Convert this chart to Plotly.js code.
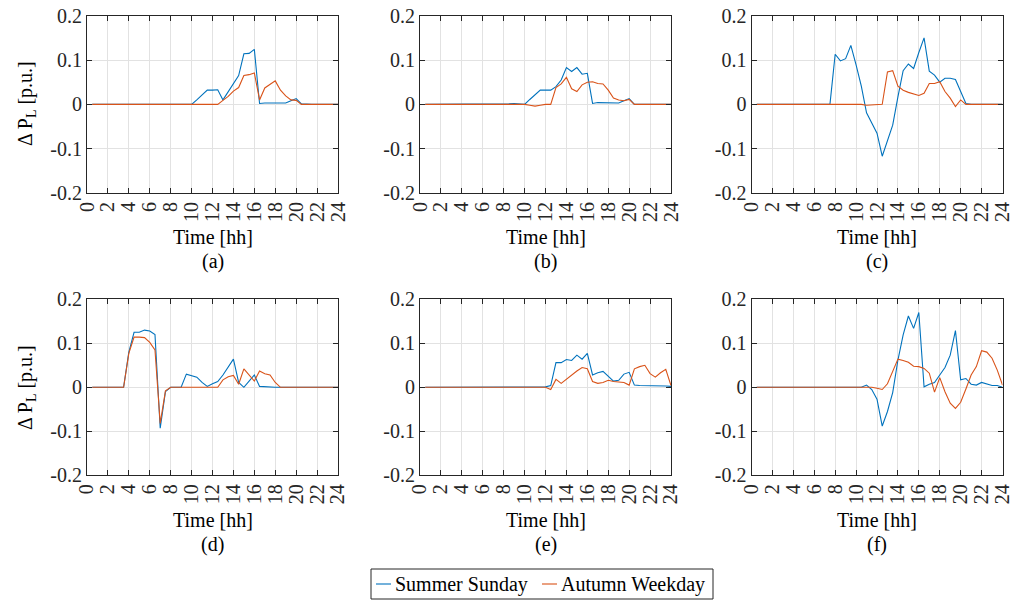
<!DOCTYPE html>
<html>
<head>
<meta charset="utf-8">
<script src="https://cdn.plot.ly/plotly-3.0.1.min.js"></script>
<style>html,body{margin:0;padding:0;background:#fff;}#chart{width:1016px;height:602px;}</style>
</head>
<body>
<div id="chart"></div>
<script>
// Time axis (hours, half-hour steps)
const hours = [0.5,1,1.5,2,2.5,3,3.5,4,4.5,5,5.5,6,6.5,7,7.5,8,8.5,9,9.5,10,10.5,11,11.5,12,12.5,13,13.5,14,14.5,15,15.5,16,16.5,17,17.5,18,18.5,19,19.5,20,20.5,21,21.5,22,22.5,23,23.5,24];

const seriesNames = ["Summer Sunday", "Autumn Weekday"];
const panelLabels = ["(a)", "(b)", "(c)", "(d)", "(e)", "(f)"];
const xTickVals = [0,2,4,6,8,10,12,14,16,18,20,22,24];
const yTickVals = [-0.2,-0.1,0,0.1,0.2];
const yTickText = ["-0.2","-0.1","0","0.1","0.2"];

// (a)
const summerA = [0,0,0,0,0,0,0,0,0,0,0,0,0,0,0,0,0,0,0,0,
  0.01,0.021,0.032,0.032,0.033,0.01,0.028,0.046,0.065,0.114,0.115,0.124,0.002,0.003,0.003,0.003,0.003,0.003,0.008,0.013,0.001,
  0,0,0,0,0,0,0];
const autumnA = [0,0,0,0,0,0,0,0,0,0,0,0,0,0,0,0,0,0,0,0,0,0,0,0,0,
  0.009,0.018,0.03,0.038,0.065,0.067,0.071,0.01,0.037,0.046,0.053,0.032,0.019,0.01,0.009,
  0,0,0,0,0,0,0,0];
// (b)
const summerB = [0,0,0,0,0,0,0,0,0,0,0,0,0,0,0,0,0.001,0.002,0.001,0,
  0.011,0.022,0.032,0.032,0.032,0.04,0.055,0.083,0.074,0.083,0.068,0.07,0.002,0.004,0.004,0.004,0.003,0.003,0.008,0.013,0,
  0,0,0,0,0,0,0];
const autumnB = [0,0,0,0,0,0,0,0,0,0,0,0,0,0,0,0,0,0,0,0,
  -0.002,-0.004,-0.002,0,0,0.038,0.046,0.061,0.035,0.029,0.044,0.05,0.051,0.047,0.046,0.032,0.014,0.01,0.008,0.011,0,
  0,0,0,0,0,0,0];
// (c)
const summerC = [0,0,0,0,0,0,0,0,0,0,0,0,0,0,0,
  0.113,0.098,0.103,0.133,0.089,0.041,-0.019,-0.041,-0.065,-0.117,-0.084,-0.047,0.017,0.076,0.091,0.081,0.117,0.15,0.075,0.066,0.05,0.059,0.059,0.056,0.029,0.002,
  0,0,0,0,0,0,0];
const autumnC = [0,0,0,0,0,0,0,0,0,0,0,0,0,0,0,0,0,0,0,0,0,
  -0.002,-0.001,0,0,0.073,0.076,0.041,0.032,0.027,0.023,0.02,0.025,0.047,0.047,0.051,0.029,0.014,-0.005,0.01,0,
  0,0,0,0,0,0,0];
// (d)
const summerD = [0,0,0,0,0,0,0,
  0.08,0.125,0.125,0.13,0.128,0.12,-0.093,-0.01,0,0,0,0.03,0.027,0.023,0.011,0.002,0.008,0.013,0.028,0.046,0.064,0.011,0,0.014,0.028,0.002,0.001,0,
  0,0,0,0,0,0,0,0,0,0,0,0,0];
const autumnD = [0,0,0,0,0,0,0,
  0.077,0.114,0.114,0.113,0.102,0.085,-0.082,-0.008,
  0,0,0,0,0,0,0,0,0,0,
  0.017,0.024,0.027,0.007,0.042,0.028,0.014,0.037,0.031,0.028,0.011,
  0,0,0,0,0,0,0,0,0,0,0,0];
// (e)
const summerE = [0,0,0,0,0,0,0,0,0,0,0,0,0,0,0,0,0,0,0,0,0,0,0,
  0.001,0.004,0.056,0.056,0.063,0.061,0.073,0.064,0.077,0.028,0.033,0.036,0.026,0.014,0.016,0.03,0.034,0.005,0.004,0.004,0.003,0.003,0.003,0.003,0.002];
const autumnE = [0,0,0,0,0,0,0,0,0,0,0,0,0,0,0,0,0,0,0,0,0,0,0,0,
  -0.005,0.018,0.009,0.019,0.028,0.037,0.045,0.042,0.013,0.009,0.011,0.016,0.013,0.012,0.011,0.005,0.042,0.047,0.05,0.031,0.023,0.033,0.041,0.004];
// (f)
const summerF = [0,0,0,0,0,0,0,0,0,0,0,0,0,0,0,0,0,0,0,0,0,
  0.005,-0.005,-0.027,-0.088,-0.055,-0.012,0.062,0.119,0.162,0.134,0.17,0.001,0.007,0.011,0.028,0.045,0.073,0.129,0.017,0.02,0.007,0.005,0.011,0.007,0.004,0.004,0];
const autumnF = [0,0,0,0,0,0,0,0,0,0,0,0,0,0,0,0,0,0,0,0,0,0,0,
  -0.002,-0.005,0.008,0.036,0.064,0.061,0.057,0.048,0.047,0.043,0.032,-0.011,0.022,-0.01,-0.036,-0.048,-0.034,-0.004,0.028,0.047,0.083,0.08,0.066,0.039,0.005];

const summerSets = [summerA, summerB, summerC, summerD, summerE, summerF];
const autumnSets = [autumnA, autumnB, autumnC, autumnD, autumnE, autumnF];

const W = 1016, H = 602;
const blue = '#0072BD', orange = '#D95319';
const font = 'Liberation Serif, Times New Roman, serif';
const axisCol = '#262626';
const FS = 20;

// pixel geometry of panels
const colX = [[87,338],[420,671],[751.5,1002.5]];
const rowY = [[15.7,193],[299.3,475.3]];

const px = v => v / W;
const py = v => 1 - v / H;

const traces = [];
const layout = {
  width: W, height: H,
  margin: {l:0, r:0, t:0, b:0},
  paper_bgcolor: '#ffffff', plot_bgcolor: '#ffffff',
  font: {family: font, size: FS, color: axisCol},
  showlegend: false,
  annotations: [],
  shapes: []
};

for (let p = 0; p < 6; p++) {
  const r = Math.floor(p / 3), c = p % 3;
  const idx = p === 0 ? '' : String(p + 1);
  const xa = 'x' + idx, ya = 'y' + idx;
  traces.push({x: hours, y: summerSets[p], type: 'scatter', mode: 'lines', xaxis: xa, yaxis: ya,
    name: seriesNames[0], line: {color: blue, width: 1.1}});
  traces.push({x: hours, y: autumnSets[p], type: 'scatter', mode: 'lines', xaxis: xa, yaxis: ya,
    name: seriesNames[1], line: {color: orange, width: 1.1}});
  const common = {showline: true, linecolor: axisCol, linewidth: 1, mirror: 'ticks',
    ticks: 'inside', ticklen: 5, tickcolor: axisCol, showgrid: true, gridcolor: '#e2e2e2', gridwidth: 1,
    zeroline: false, tickfont: {family: font, size: FS, color: axisCol}};
  layout['xaxis' + idx] = Object.assign({}, common, {
    domain: [px(colX[c][0]), px(colX[c][1])], anchor: ya, range: [0, 24],
    tickmode: 'array', tickvals: xTickVals, tickangle: -90});
  layout['yaxis' + idx] = Object.assign({}, common, {
    domain: [py(rowY[r][1]), py(rowY[r][0])], anchor: xa, range: [-0.2, 0.2],
    tickmode: 'array', tickvals: yTickVals, ticktext: yTickText});
  const cx = px((colX[c][0] + colX[c][1]) / 2);
  const tY = r === 0 ? 237 : 520;
  const lY = r === 0 ? 261 : 544;
  layout.annotations.push({text: 'Time [hh]', xref: 'paper', yref: 'paper', x: cx, y: py(tY),
    xanchor: 'center', yanchor: 'middle', showarrow: false, font: {family: font, size: FS, color: '#000'}});
  layout.annotations.push({text: panelLabels[p], xref: 'paper', yref: 'paper', x: cx, y: py(lY),
    xanchor: 'center', yanchor: 'middle', showarrow: false, font: {family: font, size: FS, color: '#000'}});
  if (c === 0) {
    layout.annotations.push({text: 'Δ P<sub>L</sub> [p.u.]', xref: 'paper', yref: 'paper', x: px(26),
      y: py(r === 0 ? 104 : 388), xanchor: 'center', yanchor: 'middle', textangle: -90,
      showarrow: false, font: {family: font, size: FS, color: '#000'}});
  }
}

// legend box (drawn manually to match the compact legend of the reference)
layout.shapes.push({type: 'rect', xref: 'paper', yref: 'paper', x0: px(371), x1: px(713), y0: py(599), y1: py(569),
  line: {color: axisCol, width: 1}, fillcolor: '#ffffff', layer: 'above'});
const legendItems = [
  {name: seriesNames[0], color: blue, x0: 376, x1: 391, tx: 393},
  {name: seriesNames[1], color: orange, x0: 542, x1: 557, tx: 559}
];
legendItems.forEach(it => {
  layout.shapes.push({type: 'line', xref: 'paper', yref: 'paper', x0: px(it.x0), x1: px(it.x1), y0: py(584), y1: py(584),
    line: {color: it.color, width: 1.1}, layer: 'above'});
  layout.annotations.push({text: it.name, xref: 'paper', yref: 'paper', x: px(it.tx), y: py(584),
    xanchor: 'left', yanchor: 'middle', showarrow: false, font: {family: font, size: FS, color: '#000'}});
});

Plotly.newPlot('chart', traces, layout, {displayModeBar: false, staticPlot: true});
</script>
</body>
</html>
